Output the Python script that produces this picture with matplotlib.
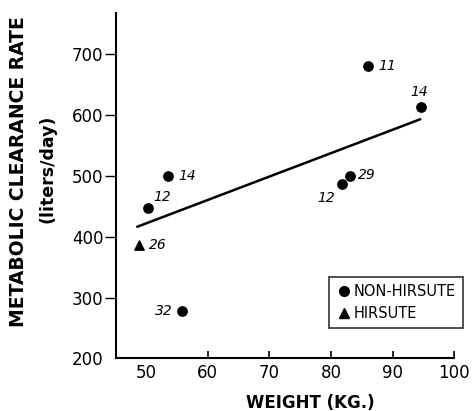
import matplotlib
matplotlib.use("Agg")
import matplotlib.pyplot as plt
from matplotlib.lines import Line2D

# Data
nonhirsute_weight = [50.3, 53.6, 55.8, 81.7, 83.0, 86.0, 94.6]
nonhirsute_mcr = [447, 500, 278, 487, 500, 681, 613]
nonhirsute_labels = ["12", "14", "32", "12", "29", "11", "14"]
hirsute_weight = [48.9]
hirsute_mcr = [387]
hirsute_labels = ["26"]
fit_weight = [48.4, 94.6]
fit_mcr = [416, 594]
xticks = [50, 60, 70, 80, 90, 100]
yticks = [200, 300, 400, 500, 600, 700]

# label offsets in points (dx, dy, ha, va)
nh_offsets = [(4, 3, "left", "bottom"), (7, 0, "left", "center"), (-7, 0, "right", "center"),
              (-5, -5, "right", "top"), (6, 1, "left", "center"), (7, 0, "left", "center"),
              (-8, 6, "left", "bottom")]
h_offsets = [(7, 0, "left", "center")]

fig = plt.figure(figsize=(4.74, 4.11), dpi=100)
ax = fig.add_axes([0.2447, 0.128, 0.714, 0.84])

ax.plot(fit_weight, fit_mcr, color="black", lw=1.8, solid_capstyle="butt")
ax.scatter(nonhirsute_weight, nonhirsute_mcr, s=45, c="black", marker="o", zorder=3)
ax.scatter(hirsute_weight, hirsute_mcr, s=45, c="black", marker="^", zorder=3)

for x, y, t, (dx, dy, ha, va) in zip(nonhirsute_weight, nonhirsute_mcr, nonhirsute_labels, nh_offsets):
    ax.annotate(t, (x, y), xytext=(dx, dy), textcoords="offset points",
                ha=ha, va=va, fontsize=10, style="italic")
for x, y, t, (dx, dy, ha, va) in zip(hirsute_weight, hirsute_mcr, hirsute_labels, h_offsets):
    ax.annotate(t, (x, y), xytext=(dx, dy), textcoords="offset points",
                ha=ha, va=va, fontsize=10, style="italic")

ax.set_xlim(45.1, 100)
ax.set_ylim(200, 768)
ax.set_xticks(xticks)
ax.set_yticks(yticks)
ax.spines["top"].set_visible(False)
ax.spines["right"].set_visible(False)
ax.spines["left"].set_linewidth(1.5)
ax.spines["bottom"].set_linewidth(1.5)
ax.tick_params(axis="x", direction="in", length=5, width=1.2, labelsize=12, pad=4)
ax.tick_params(axis="y", direction="out", length=8, width=1.0, labelsize=12, pad=1)
ax.xaxis.get_major_ticks()[0].tick1line.set_visible(False)
ax.yaxis.get_major_ticks()[0].tick1line.set_visible(False)

fig.text(310 / 474, 1 - 403 / 411, "WEIGHT (KG.)", ha="center", va="center", fontsize=12, fontweight="bold")
fig.text(19 / 474, 1 - 172 / 411, "METABOLIC CLEARANCE RATE", rotation=90, ha="center", va="center",
         fontsize=13.5, fontweight="bold")
fig.text(47 / 474, 1 - 169 / 411, "(liters/day)", rotation=90, ha="center", va="center",
         fontsize=12.5, fontweight="bold")

handles = [Line2D([], [], marker="o", color="black", ls="none", markersize=7),
           Line2D([], [], marker="^", color="black", ls="none", markersize=7)]
leg = fig.legend(handles, ["NON-HIRSUTE", "HIRSUTE"], loc="upper left",
                 bbox_to_anchor=(329 / 474, 1 - 277 / 411), fontsize=10.5, frameon=True,
                 fancybox=False, edgecolor="black", handletextpad=0.2, handlelength=1.0,
                 borderpad=0.5, labelspacing=0.45, borderaxespad=0)
leg.get_frame().set_linewidth(1.2)

fig.savefig("out.png", dpi=100)
